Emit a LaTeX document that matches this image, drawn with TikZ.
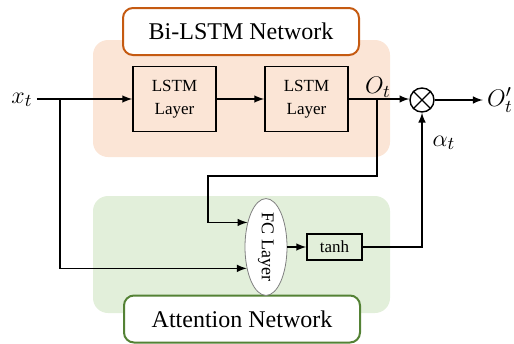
\documentclass[tikz,border=0pt]{standalone}
\usepackage{fontspec}
\setmainfont{Liberation Serif}
\usetikzlibrary{shapes.geometric, arrows}
\definecolor{lstmFill}{HTML}{FBE5D6}
\definecolor{lstmEdge}{HTML}{C55A11}
\definecolor{attnFill}{HTML}{E2EFDA}
\definecolor{attnEdge}{HTML}{548235}
\tikzstyle{orangeArea} = [fill=lstmFill, rounded corners=7.5pt]
\tikzstyle{greenArea} = [fill=attnFill, rounded corners=7.5pt]
\tikzstyle{netTitle} = [rectangle, rounded corners=5pt,
minimum width=118pt,
minimum height=23.5pt,
text centered,
line width=1pt,
fill=white,
font=\fontsize{12}{14}\selectfont]
\tikzstyle{layer} = [rectangle,
minimum width=41.5pt,
minimum height=32.5pt,
align=center,
draw=black,
line width=0.8pt,
font=\fontsize{8.5}{11.5}\selectfont]
\tikzstyle{fcLayer} = [ellipse, inner sep=0pt,
minimum width=21pt,
minimum height=47pt,
draw=black!50,
fill=white,
font=\fontsize{9}{10}\selectfont]
\tikzstyle{activation} = [rectangle, inner sep=0pt,
minimum width=27.5pt,
minimum height=13pt,
draw=black,
line width=0.8pt,
font=\fontsize{8.5}{10}\selectfont]
\tikzstyle{product} = [circle, inner sep=0pt,
minimum size=12pt,
draw=black,
line width=0.7pt,
fill=white]
\tikzstyle{symbol} = [inner sep=2pt, font=\fontsize{13}{14}\selectfont]
\tikzstyle{line} = [line width=0.7pt,-]
\tikzstyle{arrow} = [line width=0.7pt,->,>=latex]

\begin{document}
\begin{tikzpicture}[x=0.5pt, y=-0.5pt, node distance=66pt]
\useasboundingbox (0,0) rectangle (514,343);
% network areas
\fill [orangeArea] (93,40) rectangle (390,157);
\fill [greenArea] (93,196) rectangle (390,313);

\node (bilstm) [netTitle, draw=lstmEdge] at (241,31.5) {Bi-LSTM Network};
\node (attn) [netTitle, draw=attnEdge] at (242,319) {Attention Network};
\node (lstm1) [layer] at (174.5,99) {LSTM\\Layer};
\node (lstm2) [layer, right of=lstm1] {LSTM\\Layer};
\node (fc) [fcLayer] at (266,247) {\rotatebox{-90}{FC Layer}};
\node (tanh) [activation] at (334.5,247) {tanh};
\node (mult) [product] at (422,100) {};
\node (xt) [symbol] at (22,100) {$x_t$};
\node (ot) [symbol] at (378,87) {$O_t$};
\node (at) [symbol] at (444,143) {$\alpha_t$};
\node (out) [symbol] at (500,100) {$O'_t$};
\coordinate (split1) at (60,99);
\coordinate (split2) at (377,99);
\coordinate (bend) at (208,176);

\draw [line] (mult.north west) -- (mult.south east);
\draw [line] (mult.north east) -- (mult.south west);
\draw [arrow] (xt.east |- lstm1) -- (lstm1);
\draw [arrow] (lstm1) -- (lstm2);
\draw [arrow] (lstm2) -- (mult.west |- lstm2);
\draw [arrow] (split1) |- (fc.228);
\draw [arrow] (split2) |- (bend) |- (fc.127);
\draw [arrow] (fc) -- (tanh);
\draw [arrow] (tanh) -| (mult);
\draw [arrow] (mult) -- (out);
\end{tikzpicture}
\end{document}
